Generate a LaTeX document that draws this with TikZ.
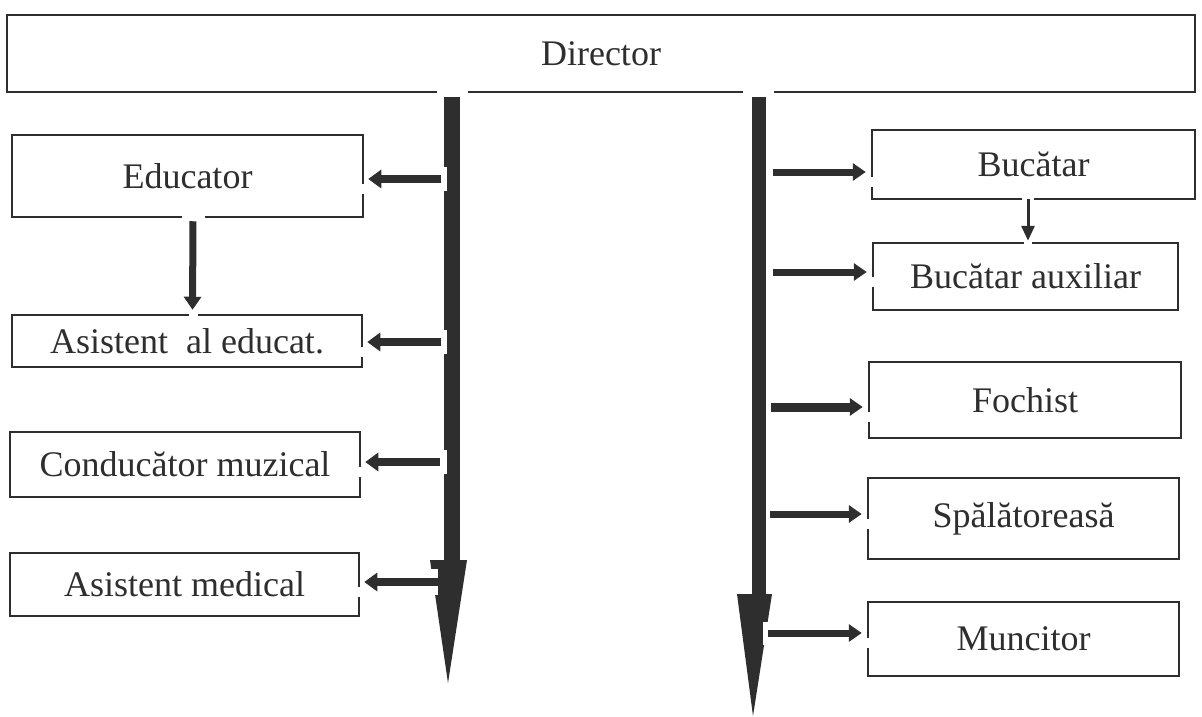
\documentclass[tikz,border=0pt]{standalone}
\usepackage{fontspec}
\setmainfont{Liberation Serif}
\usetikzlibrary{arrows.meta}
\definecolor{ink}{HTML}{2E2E2E}
\begin{document}
\begin{tikzpicture}[x=1pt,y=-1pt,
  box/.style={draw=ink, line width=2.5pt, inner sep=0pt, text=ink,
    font=\fontsize{36}{42}\selectfont},
  leftarr/.style={draw=ink, line width=8pt, -{Triangle[length=13pt,width=18pt]}, shorten >=4pt},
  rightarr/.style={draw=ink, line width=7pt, -{Triangle[length=13pt,width=17pt]}, shorten >=5pt},
  downarr/.style={draw=ink, line width=7pt, -{Triangle[length=13pt,width=17pt]}},
  thinarr/.style={draw=ink, line width=3pt, -{Triangle[length=15pt,width=13pt]}},
  gap/.style={fill=white},
  shaft/.style={fill=ink}]
\useasboundingbox (0,0) rectangle (1202,717);
\fill[white] (0,0) rectangle (1202,717);

% boxes
\node[box, minimum width=1188pt, minimum height=77pt] (dir) at (601,53.5) {Director};
\node[box, minimum width=351pt, minimum height=82pt] (edu) at (187.5,176) {Educator};
\node[box, minimum width=350pt, minimum height=52pt] (asis) at (187,341) {Asistent\ \ al educat.};
\node[box, minimum width=350pt, minimum height=65pt] (cond) at (185,464.5) {Conducător muzical};
\node[box, minimum width=349pt, minimum height=63pt] (med) at (184.5,584.5) {Asistent medical};
\node[box, minimum width=323pt, minimum height=69pt] (buc) at (1033.5,164.5) {Bucătar};
\node[box, minimum width=305pt, minimum height=67pt] (aux) at (1025.5,276.5) {Bucătar auxiliar};
\node[box, minimum width=312pt, minimum height=76pt] (foc) at (1025,400) {Fochist};
\node[box, minimum width=311pt, minimum height=81pt] (spal) at (1023.5,518.5) {Spălătoreasă};
\node[box, minimum width=311pt, minimum height=74pt] (munc) at (1023.5,639) {Muncitor};

% gaps in the director box where the shafts leave
\fill[gap] (437,88) rectangle (468,99);
\fill[gap] (743,88) rectangle (774,99);

% left shaft
\fill[shaft] (444,97) rectangle (460,562);
\fill[shaft] (430,560) -- (467,560) -- (448,683) -- cycle;
% right shaft
\fill[shaft] (752,97) rectangle (766,596);
\fill[shaft] (737,594) -- (772,594) -- (753,716) -- cycle;

% notches in shafts where arrows start
\fill[gap] (442,167) rectangle (447,191);
\fill[gap] (442,330) rectangle (447,354);
\fill[gap] (442,450) rectangle (447,474);
\fill[gap] (428,569) rectangle (438,595);
\fill[gap] (763,622) rectangle (775,645);

% arrow start coordinates on the shafts
\coordinate (l1) at (441,179);
\coordinate (l2) at (441,342);
\coordinate (l3) at (440,462);
\coordinate (l4) at (438,582);
\coordinate (r1) at (773,172);
\coordinate (r2) at (773,272);
\coordinate (r3) at (771,407);
\coordinate (r4) at (770,514);
\coordinate (r5) at (768,633);

% box edge gaps where arrows arrive
\foreach \c/\b in {l1/edu,l2/asis,l3/cond,l4/med}{
  \fill[gap] ([yshift=-5pt]\c -| \b.east) ++(-2,0) rectangle ++(4,10);
}
\foreach \c/\b in {r1/buc,r2/aux,r3/foc,r4/spal,r5/munc}{
  \fill[gap] ([yshift=-5pt]\c -| \b.west) ++(-2,0) rectangle ++(4,10);
}
\fill[gap] (182,214) rectangle (205,220);
\fill[gap] (189,312) rectangle (198,318);
\fill[gap] (1022,196) rectangle (1034,202);
\fill[gap] (1024,240) rectangle (1032,246);

% arrows from shafts to boxes
\draw[leftarr] (l1) -- (l1 -| edu.east);
\draw[leftarr] (l2) -- (l2 -| asis.east);
\draw[leftarr] (l3) -- (l3 -| cond.east);
\draw[leftarr] (l4) -- (l4 -| med.east);
\draw[rightarr] (r1) -- (r1 -| buc.west);
\draw[rightarr] (r2) -- (r2 -| aux.west);
\draw[rightarr, line width=9pt] (r3) -- (r3 -| foc.west);
\draw[rightarr] (r4) -- (r4 -| spal.west);
\draw[rightarr] (r5) -- (r5 -| munc.west);

% box to box arrows
\draw[downarr, shorten <=3pt, shorten >=4pt] ([xshift=5.5pt]edu.south) -- ([xshift=5.5pt]asis.north);
\draw[thinarr, shorten <=1pt, shorten >=1pt] (aux.north -| 1028,0) ++(0,-44) -- (aux.north -| 1028,0);
\end{tikzpicture}
\end{document}
